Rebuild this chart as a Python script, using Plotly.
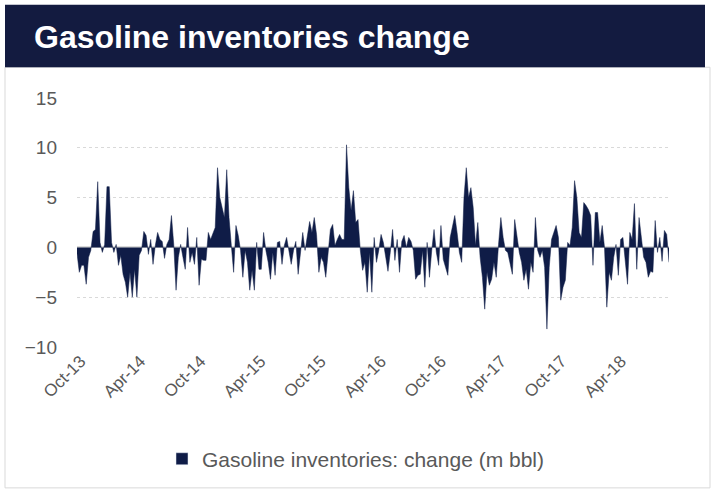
import pandas as pd
import plotly.graph_objects as go

# ---- data ----
start_date = "2013-09-20"
changes = [
    -0.6, -2.5, -1.8, -1.8, -3.7, -1.0, -0.3, 1.6, 1.8, 6.6,
    0.5, -0.5, 0.3, 6.1, 6.1, 0.5, -0.5, 0.3, -1.8, -0.8,
    -2.7, -3.5, -5.0, -2.5, -5.0, -2.2, -5.0, -0.8, -0.3, 1.6,
    1.2, -0.7, 0.8, -1.7, 0.2, 1.5, 0.8, 0.6, -1.1, 0.3,
    0.8, 3.2, 0.3, -4.3, -1.0, 0.3, -1.0, -2.2, 2.0, -1.5,
    -0.5, -1.7, 1.0, -3.8, -1.2, -1.3, -1.3, 1.5, 0.8, 1.5,
    2.0, 8.0, 5.0, 4.0, 3.0, 7.8, 3.0, 0.2, -2.5, 2.2,
    1.2, -0.3, -3.0, -0.3, -1.5, -4.3, -2.3, -4.3, 0.5, -2.2,
    -2.2, 1.5, -0.3, -1.5, -3.2, -0.5, -2.8, 0.5, 0.6, -1.7,
    0.2, 1.0, -0.3, -1.7, -0.3, 0.6, -2.7, -0.3, 1.5, -0.3,
    1.0, 2.6, 1.5, 3.0, 1.3, -2.5, -1.0, -1.5, -3.0, -0.3,
    1.8, 2.3, 0.2, 0.8, 1.3, 0.8, 0.8, 10.3, 6.0, 3.7,
    5.7, 2.5, 2.8, -0.3, -2.3, -1.5, -4.5, -0.5, -4.5, 1.0,
    -1.5, -0.3, 1.3, 0.5, -1.0, -2.4, -0.5, 1.8, -1.3, 0.8,
    -2.5, 0.6, 1.2, 0.0, 1.0, 0.6, -0.3, -3.2, -2.8, -2.7,
    -0.3, -4.0, 0.5, -3.0, -0.3, 1.8, -0.5, -1.8, 2.2, -1.2,
    -2.0, -2.8, 1.0, 2.0, 3.2, 1.5, -0.5, -1.5, 5.0, 8.0,
    5.0, 6.0, 4.0, 0.2, 2.5, -1.0, -3.0, -6.2, -2.5, -3.8,
    -3.2, -1.5, -3.0, 0.3, 3.0, 1.0, -0.3, -0.5, -1.5, -2.7,
    2.8, 1.2, -0.5, -1.5, -3.3, -2.2, -4.2, -1.5, -2.5, 3.0,
    -0.3, -1.0, -0.3, -2.0, -8.2, -2.0, 0.8, 1.5, 2.2, 1.0,
    -5.3, -4.0, -3.3, 0.5, 0.2, 2.0, 6.7, 5.0, 1.5, 1.0,
    4.5, 4.2, 3.8, 3.2, -1.8, 3.5, 3.5, 0.5, 2.2, 0.0,
    -6.0, -2.5, -3.3, -1.0, 0.3, -2.8, 0.8, 1.0, -1.5, -3.7,
    1.5, 0.8, 4.4, -2.2, 3.0, 1.0, -1.0, -1.5, -3.0, -2.4,
    -2.5, 2.7, -0.5, 1.0, -1.4, 1.7, 1.3, -1.5,
]
dates = pd.date_range(start=start_date, periods=len(changes), freq="7D")

tick_dates = ["2013-10-01", "2014-04-01", "2014-10-01", "2015-04-01", "2015-10-01",
              "2016-04-01", "2016-10-01", "2017-04-01", "2017-10-01", "2018-04-01"]
tick_labels = ["Oct-13", "Apr-14", "Oct-14", "Apr-15", "Oct-15",
               "Apr-16", "Oct-16", "Apr-17", "Oct-17", "Apr-18"]
y_ticks = [-10, -5, 0, 5, 10, 15]

series_name = "Gasoline inventories: change (m bbl)"
title_text = "Gasoline inventories change"

# ---- styling ----
NAVY = "#0f1c47"
GREY_TXT = "#595959"
FONT = "Liberation Sans, Arial, sans-serif"

W, H = 717, 492
L, R, T, B = 77, 669, 98, 349  # plot area in px


def px(x):
    return (x - L) / (R - L)


def py(y):
    return (B - y) / (B - T)


fig = go.Figure()
fig.add_trace(go.Scatter(
    x=dates, y=changes, mode="lines", fill="tozeroy",
    line=dict(color=NAVY, width=0.5), fillcolor=NAVY,
    showlegend=False, hoverinfo="x+y",
))
# legend swatch (square)
fig.add_trace(go.Bar(x=[None], y=[None], name=series_name,
                     marker=dict(color=NAVY), showlegend=True))

fig.update_layout(
    width=W, height=H, autosize=False,
    margin=dict(l=L, r=W - R, t=T, b=H - B, pad=0),
    paper_bgcolor="white", plot_bgcolor="white",
    font=dict(family=FONT, size=19, color=GREY_TXT),
    showlegend=True,
    legend=dict(orientation="h", x=px(356), y=py(462), xanchor="center", yanchor="middle",
                font=dict(size=21, color=GREY_TXT), itemwidth=30,
                bgcolor="rgba(0,0,0,0)"),
    shapes=[
        dict(type="rect", xref="paper", yref="paper",
             x0=px(5), x1=px(710), y0=py(491), y1=py(67),
             line=dict(color="#d9d9d9", width=1), fillcolor="rgba(0,0,0,0)", layer="below"),
        dict(type="rect", xref="paper", yref="paper",
             x0=px(5), x1=px(705), y0=py(67), y1=py(4),
             line=dict(width=0), fillcolor="#131b40", layer="above"),
    ],
    annotations=[
        dict(text="<b>" + title_text + "</b>", xref="paper", yref="paper",
             x=px(32), y=py(37), xanchor="left", yanchor="middle", showarrow=False,
             font=dict(family=FONT, size=32, color="white")),
    ],
)

fig.update_xaxes(
    type="date", range=[dates[0], dates[-1]],
    tickvals=tick_dates, ticktext=tick_labels, tickangle=-45,
    showgrid=False, zeroline=False, showline=False, ticks="",
    tickfont=dict(size=17, color=GREY_TXT),
)
fig.update_yaxes(
    range=[-10, 15], tickvals=y_ticks,
    showgrid=True, gridcolor="#d9d9d9", griddash="dot", gridwidth=1,
    zeroline=True, zerolinecolor="#d9d9d9", zerolinewidth=2,
    showline=False, ticks="", ticklabelstandoff=19,
    tickfont=dict(size=19, color=GREY_TXT), layer="above traces",
)

fig.write_html("out.html", config={"displayModeBar": False},
               post_script="document.body.style.margin='0';")
